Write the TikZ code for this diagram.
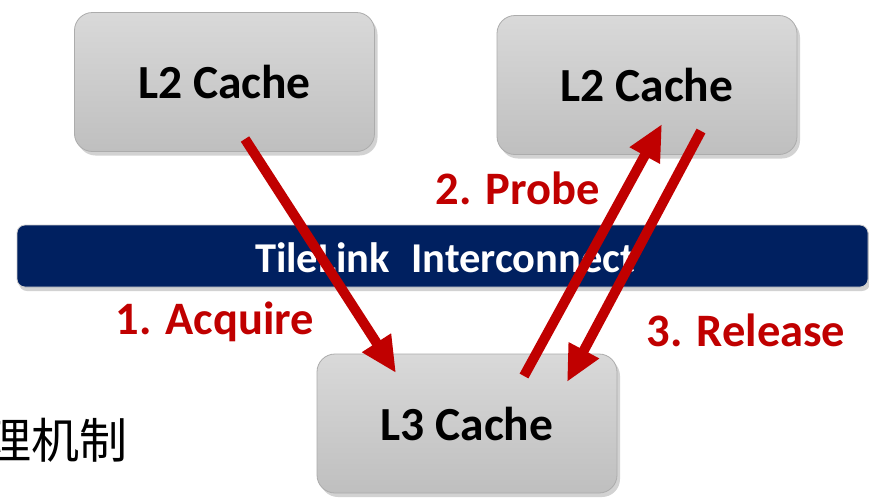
\documentclass[tikz,border=0pt]{standalone}
\usepackage{fontspec}
\setmainfont{Carlito}
\newfontfamily\cjk{Noto Sans CJK SC}
\usetikzlibrary{shadows,arrows.meta}
\definecolor{navy}{HTML}{002060}
\definecolor{darkred}{HTML}{C00000}
\definecolor{boxtop}{HTML}{D9D9D9}
\definecolor{boxbot}{HTML}{BFBFBF}
\begin{document}
\begin{tikzpicture}[x=1pt,y=-1pt,
  cachebox/.style={rounded corners=18pt, draw=gray!65, line width=0.8pt,
    top color=boxtop, bottom color=boxbot,
    drop shadow={shadow xshift=3pt, shadow yshift=-4pt, opacity=0.35},
    minimum width=300pt, minimum height=139pt, inner sep=0pt,
    font=\bfseries\fontsize{47.5}{50}\selectfont},
  busbar/.style={rounded corners=8pt, draw=gray!40, line width=0.8pt, fill=navy,
    drop shadow={shadow xshift=2pt, shadow yshift=-4pt, opacity=0.35},
    minimum width=851pt, minimum height=62pt, inner sep=0pt},
  bustext/.style={text=white, font=\bfseries\fontsize{42.5}{45}\selectfont},
  steplabel/.style={text=darkred, font=\bfseries\fontsize{46.5}{50}\selectfont},
  redarrow/.style={draw=darkred, line width=10pt, -{Triangle[length=36pt,width=32pt]}}
]
\clip (0,0) rectangle (869,499);
\fill[white] (0,0) rectangle (869,499);
% boxes
\node[cachebox] (l2a) at (224.5,82) {L2 Cache};
\node[cachebox] (l2b) at (647,85) {L2 Cache};
\node[busbar] (bus) at (442.5,256) {};
\node[bustext] (bustxt) at (445,258) {TileLink\hspace{0.5em}Interconnect};
\node[cachebox] (l3) at (467,423.5) {L3 Cache};
% labels
\node[steplabel] (probe) at (518,188) {2. Probe};
\node[steplabel] (acq) at (215,322) {1. Acquire};
\node[steplabel] (rel) at (746,330) {3. Release};
\node[anchor=west, font=\cjk\fontsize{48}{50}\selectfont] (cn) at (-20,440) {理机制};
% arrow endpoints
\coordinate (a1s) at (245,139);
\coordinate (a1e) at (396,373);
\coordinate (a2s) at (524,376);
\coordinate (a2e) at (662,124);
\coordinate (a3s) at (701,131);
\coordinate (a3e) at (567,382);
\draw[redarrow] (a1s) -- (a1e);
\draw[redarrow] (a2s) -- (a2e);
\draw[redarrow] (a3s) -- (a3e);
\end{tikzpicture}
\end{document}
